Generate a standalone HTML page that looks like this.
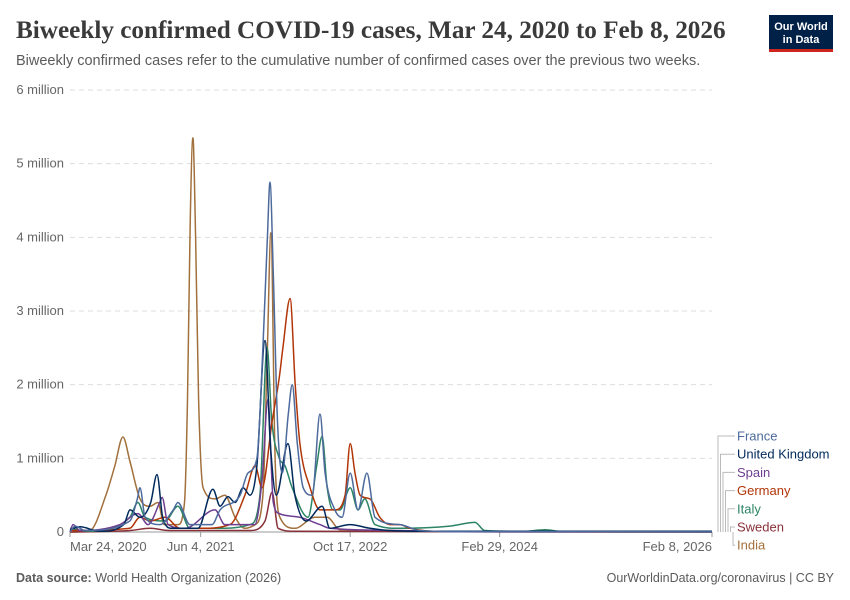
<!DOCTYPE html>
<html><head><meta charset="utf-8"><style>
body{margin:0;background:#fff;font-family:"Liberation Sans",sans-serif}
#wrap{position:relative;width:850px;height:600px;overflow:hidden}
</style></head><body>
<div id="wrap">
<svg id="svg" width="850" height="600" xmlns="http://www.w3.org/2000/svg">
<text x="16" y="38" font-family="Liberation Serif,serif" font-size="25.2" font-weight="bold" fill="#3a3a3a">Biweekly confirmed COVID-19 cases, Mar 24, 2020 to Feb 8, 2026</text>
<text x="16" y="65" font-size="14.5" fill="#5b5b5b">Biweekly confirmed cases refer to the cumulative number of confirmed cases over the previous two weeks.</text>
<g><rect x="769" y="15" width="64" height="36" fill="#002147"/><rect x="769" y="49" width="64" height="3" fill="#ce261e"/>
<text x="801" y="30" font-size="11" fill="#fff" text-anchor="middle" font-weight="bold">Our World</text><text x="801" y="43" font-size="11" fill="#fff" text-anchor="middle" font-weight="bold">in Data</text></g>
<g id="grid"></g><g id="lines"></g><g id="legend"></g>
<text x="16" y="582" font-size="12.5" fill="#5b5b5b"><tspan font-weight="bold">Data source:</tspan> World Health Organization (2026)</text>
<text x="834" y="582" font-size="12.5" fill="#5b5b5b" text-anchor="end">OurWorldinData.org/coronavirus | CC BY</text>
</svg></div>
<script>
const yTicks=[0,1,2,3,4,5,6];
const yTickLabels=["0","1 million","2 million","3 million","4 million","5 million","6 million"];
const xTicks=[0,437,937,1437,2147];
const xTickLabels=["Mar 24, 2020","Jun 4, 2021","Oct 17, 2022","Feb 29, 2024","Feb 8, 2026"];
const seriesNames=["France","United Kingdom","Spain","Germany","Italy","Sweden","India"];
const seriesColors=["#4c6a9c","#00295b","#6d3e91","#b13507","#2c8465","#883039","#a2703c"];
// [day since Mar 24 2020, millions]
const france=[[0,0],[17,0.08],[50,0.02],[200,0.15],[225,0.45],[234,0.6],[251,0.2],[301,0.1],[345,0.3],[361,0.4],[401,0.1],[475,0.1],[502,0.3],[569,0.5],[595,0.8],[625,1.0],[645,2.5],[660,4.0],[669,4.75],[680,3.5],[694,1.5],[710,0.8],[730,1.6],[743,2.0],[760,1.2],[780,0.6],[810,0.5],[836,1.6],[853,0.8],[886,0.3],[910,0.2],[937,0.8],[963,0.3],[993,0.8],[1020,0.2],[1103,0.1],[1170,0.02],[1300,0.005],[2147,0.002]];
const uk=[[0,0.03],[33,0.07],[100,0.01],[180,0.1],[201,0.3],[234,0.2],[270,0.4],[291,0.78],[310,0.2],[340,0.05],[428,0.05],[478,0.58],[502,0.35],[528,0.48],[552,0.4],[579,0.6],[602,0.5],[625,0.9],[652,2.6],[670,1.2],[690,0.5],[729,1.2],[752,0.5],[790,0.15],[843,0.35],[869,0.05],[936,0.1],[1003,0.05],[1070,0.02],[1200,0.01],[2147,0.01]];
const spain=[[0,0],[10,0.1],[33,0.02],[167,0.1],[227,0.25],[261,0.1],[300,0.4],[308,0.47],[328,0.1],[385,0.05],[485,0.3],[518,0.1],[618,0.1],[642,0.7],[662,1.8],[680,0.4],[700,0.25],[769,0.2],[836,0.1],[869,0.05],[1103,0.02],[1300,0.003],[2147,0.001]];
const germany=[[0,0.02],[200,0.05],[234,0.2],[268,0.15],[318,0.2],[368,0.05],[435,0.05],[535,0.1],[585,0.5],[619,0.9],[642,0.6],[676,1.5],[700,2.1],[712,2.5],[736,3.17],[753,2.0],[769,1.2],[803,0.6],[836,0.3],[886,0.3],[920,0.5],[937,1.2],[953,0.8],[970,0.5],[1003,0.45],[1036,0.2],[1070,0.1],[1103,0.1],[1137,0.05],[1250,0.005],[2147,0.001]];
const italy=[[0,0.05],[60,0.01],[200,0.2],[227,0.4],[251,0.2],[318,0.15],[361,0.35],[401,0.05],[518,0.05],[602,0.1],[635,0.5],[659,2.5],[675,1.5],[700,1.0],[719,0.9],[743,0.6],[796,0.2],[825,0.9],[843,1.3],[860,0.6],[880,0.3],[903,0.3],[937,0.6],[963,0.3],[986,0.45],[1020,0.1],[1103,0.05],[1270,0.08],[1354,0.13],[1387,0.02],[1520,0.01],[1588,0.03],[1650,0.005],[2147,0.002]];
const sweden=[[0,0],[200,0.02],[268,0.05],[330,0.02],[602,0.02],[652,0.15],[676,0.54],[696,0.05],[750,0.01],[2147,0]];
const india=[[0,0],[67,0.02],[120,0.5],[150,0.9],[177,1.29],[201,0.95],[234,0.45],[268,0.35],[294,0.4],[315,0.1],[361,0.1],[383,0.4],[393,1.8],[402,4.2],[411,5.35],[420,4.0],[430,1.8],[445,0.6],[485,0.45],[518,0.5],[552,0.2],[585,0.05],[619,0.1],[645,0.5],[660,2.5],[672,4.06],[686,1.0],[702,0.2],[752,0.05],[820,0.2],[860,0.2],[903,0.03],[1000,0.02],[1200,0.01],[2147,0.002]];
const seriesData=[france,uk,spain,germany,italy,sweden,india];

const x0=70,x1=712,yb=532,yt=90,maxDay=2147,maxV=6;
const xs=d=>x0+(d/maxDay)*(x1-x0);
const ys=v=>yb-(v/maxV)*(yb-yt);
const NS="http://www.w3.org/2000/svg";
function mk(tag,attrs,parent){const e=document.createElementNS(NS,tag);for(const k in attrs)e.setAttribute(k,attrs[k]);parent.appendChild(e);return e;}
function monotonePath(P){
  const n=P.length;const d=[],m=[];
  for(let i=0;i<n-1;i++)d.push((P[i+1][1]-P[i][1])/(P[i+1][0]-P[i][0]));
  m[0]=d[0];m[n-1]=d[n-2];
  for(let i=1;i<n-1;i++)m[i]=(d[i-1]*d[i]<=0)?0:(d[i-1]+d[i])/2;
  for(let i=0;i<n-1;i++){if(d[i]===0){m[i]=0;m[i+1]=0;continue;}const a=m[i]/d[i],b=m[i+1]/d[i],s=a*a+b*b;if(s>9){const t=3/Math.sqrt(s);m[i]=t*a*d[i];m[i+1]=t*b*d[i];}}
  let s='M'+P[0][0].toFixed(1)+','+P[0][1].toFixed(1);
  for(let i=0;i<n-1;i++){const h=(P[i+1][0]-P[i][0])/3;
    s+=' C'+(P[i][0]+h).toFixed(1)+','+(P[i][1]+m[i]*h).toFixed(1)+' '+(P[i+1][0]-h).toFixed(1)+','+(P[i+1][1]-m[i+1]*h).toFixed(1)+' '+P[i+1][0].toFixed(1)+','+P[i+1][1].toFixed(1);}
  return s;
}
const grid=document.getElementById('grid'),lines=document.getElementById('lines'),legend=document.getElementById('legend');
yTicks.forEach((t,i)=>{
  if(t>0){const l=mk('line',{x1:x0,x2:x1,y1:ys(t),y2:ys(t),stroke:'#ddd','stroke-dasharray':'5,4'},grid);
  
  }
  const tx=mk('text',{x:64,y:ys(t)+4,'font-size':13,fill:'#666','text-anchor':'end'},grid);tx.textContent=yTickLabels[i];
  
  
});
const ax=mk('line',{x1:x0,x2:x1,y1:yb,y2:yb,stroke:'#999'},grid);


xTicks.forEach((t,i)=>{
  mk('line',{x1:xs(t),x2:xs(t),y1:yb,y2:yb+5,stroke:'#999'},grid);
  const anchor=i==0?'start':(i==xTicks.length-1?'end':'middle');
  const tx=mk('text',{x:xs(t),y:551,'font-size':13,fill:'#666','text-anchor':anchor},grid);tx.textContent=xTickLabels[i];
  
  
});
for(let s=seriesData.length-1;s>=0;s--){
  const P=seriesData[s].map(p=>[xs(p[0]),Math.min(yb,ys(p[1]))]);
  const pl=mk('path',{d:monotonePath(P),fill:'none',stroke:seriesColors[s],'stroke-width':1.5,'stroke-linejoin':'round'},lines);
  
  
}
seriesNames.forEach((n,i)=>{
  const y=436+i*18.2;
  const bx=718+i*2.5;
  mk('path',{d:`M${bx} ${yb} V${y} H735`,fill:'none',stroke:'#bbb','stroke-width':1},legend);
  const tx=mk('text',{x:737,y:y+4.5,'font-size':13,fill:seriesColors[i]},legend);tx.textContent=n;
  
  
});
</script>
</body></html>
